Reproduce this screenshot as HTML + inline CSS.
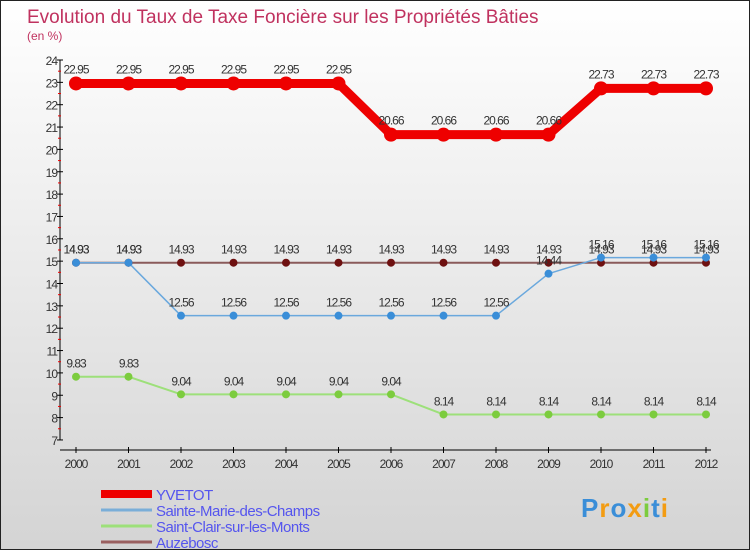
<!DOCTYPE html>
<html><head><meta charset="utf-8"><style>
html,body{margin:0;padding:0;}
body{width:750px;height:550px;overflow:hidden;font-family:"Liberation Sans",sans-serif;}
#wrap{position:relative;width:748px;height:548px;border:1px solid #222;background:linear-gradient(#ffffff,#d4d4d4);}
svg{position:absolute;left:0;top:0;}
</style></head><body>
<div id="wrap">
<svg id="c" width="748" height="548"></svg>
</div>
<script>
const years=[2000,2001,2002,2003,2004,2005,2006,2007,2008,2009,2010,2011,2012];
const yvetot=[22.95,22.95,22.95,22.95,22.95,22.95,20.66,20.66,20.66,20.66,22.73,22.73,22.73];
const sainteMarie=[14.93,14.93,12.56,12.56,12.56,12.56,12.56,12.56,12.56,14.44,15.16,15.16,15.16];
const saintClair=[9.83,9.83,9.04,9.04,9.04,9.04,9.04,8.14,8.14,8.14,8.14,8.14,8.14];
const auzebosc=[14.93,14.93,14.93,14.93,14.93,14.93,14.93,14.93,14.93,14.93,14.93,14.93,14.93];
const yTicks=[7,8,9,10,11,12,13,14,15,16,17,18,19,20,21,22,23,24];
const seriesNames=["YVETOT","Sainte-Marie-des-Champs","Saint-Clair-sur-les-Monts","Auzebosc"];

const NS="http://www.w3.org/2000/svg";
const svg=document.getElementById('c');
function el(t,a,p){const e=document.createElementNS(NS,t);for(const k in a)e.setAttribute(k,a[k]);(p||svg).appendChild(e);return e;}
const X=i=>75+i*52.5;
const Y=v=>59+(24-v)*22.35;

let t=el('text',{x:26,y:22,'font-size':19,fill:'#c0325f'});t.textContent="Evolution du Taux de Taxe Foncière sur les Propriétés Bâties";

t=el('text',{x:26,y:39,'font-size':12,fill:'#c0325f'});t.textContent="(en %)";


// axes
let ax=el('line',{x1:59,y1:59,x2:59,y2:439,stroke:'#000','stroke-width':1});

ax=el('line',{x1:59,y1:449,x2:710,y2:449,stroke:'#000','stroke-width':1});

yTicks.forEach(v=>{
  el('line',{x1:56,y1:Y(v),x2:62,y2:Y(v),stroke:'#000'});
  if(v<24) el('line',{x1:57,y1:Y(v+0.5),x2:60,y2:Y(v+0.5),stroke:'#e00'});
  const l=el('text',{x:56,y:Y(v)+5,'font-size':12,fill:'#333','text-anchor':'end','letter-spacing':'-1'});l.textContent=v;
  
});
years.forEach((y,i)=>{
  el('line',{x1:X(i),y1:446,x2:X(i),y2:452,stroke:'#000'});
  const l=el('text',{x:X(i),y:467,'font-size':12,fill:'#333','text-anchor':'middle','letter-spacing':'-1'});l.textContent=y;
  
});

function series(vals,color,w,r,dot,name,labelDy){
  const g=el('g',{});
  el('polyline',{points:vals.map((v,i)=>X(i)+','+Y(v)).join(' '),fill:'none',stroke:color,'stroke-width':w,'stroke-linejoin':'round'},g);
  vals.forEach((v,i)=>{
    const c=el('circle',{cx:X(i),cy:Y(v),r:r,fill:dot},g);
    
    const l=el('text',{x:X(i),y:Y(v)+labelDy,'font-size':12,fill:'#333','text-anchor':'middle','letter-spacing':'-1'},g);
    l.textContent=v.toFixed(2).replace(/0$/,'').replace(/\.$/,'');
    
  });
}
series(saintClair,'#9de07a',2,4,'#7ccc3e','saint-clair',-9);
series(auzebosc,'#8a5a5a',2,4,'#6e1010','auzebosc',-9);
series(sainteMarie,'#6aa8dd',1.5,4,'#3a8ed8','sainte-marie',-9);
series(yvetot,'#ee0000',9,7,'#ee0000','yvetot',-10);

// legend
const cols=[['#ee0000',8],['#7aaed8',3],['#9de07a',3],['#9a6060',3]];
seriesNames.forEach((n,i)=>{
  const y=493+i*16;
  const g=el('g',{});
  el('line',{x1:100,y1:y,x2:151,y2:y,stroke:cols[i][0],'stroke-width':cols[i][1]},g);
  const l=el('text',{x:155,y:y+6,'font-size':15,fill:'#5555ee','letter-spacing':'-0.5'},g);l.textContent=n;
});
// logo
const lg=el('text',{x:580,y:516,'font-size':26,'font-weight':'bold','letter-spacing':'1'});

[['P','#3a8ed8'],['r','#f39c12'],['o','#3a8ed8'],['x','#f39c12'],['i','#7ccc3e'],['t','#3a8ed8'],['i','#f39c12']].forEach(([c,f])=>{
  const s=el('tspan',{fill:f},lg);s.textContent=c;
});
</script>
</body></html>
